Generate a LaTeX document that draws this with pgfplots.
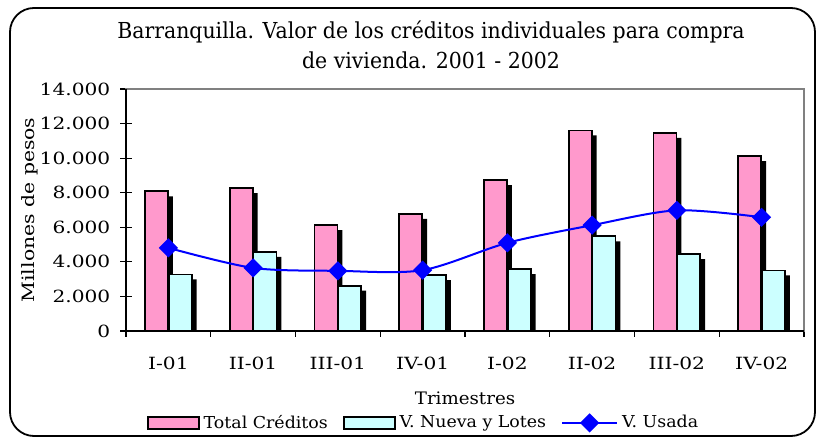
\documentclass[border=0pt]{standalone}
\usepackage{fontspec}
\setmainfont{DejaVu Serif}[FakeStretch=1.2]
\newfontfamily\titlefont{DejaVu Serif}[FakeStretch=0.93]
\newfontfamily\legfont{DejaVu Serif}[FakeStretch=1.06]
\usepackage{pgfplots}
\usepackage{pgfplotstable}
\pgfplotsset{compat=1.18}
\definecolor{pinkbar}{RGB}{255,153,204}
\definecolor{cyanbar}{RGB}{204,255,255}
\definecolor{blueline}{RGB}{0,0,255}
\pgfplotsset{
  barlegend/.style={legend image code/.code={\draw[##1] (0pt,-3pt) rectangle (25.5pt,3pt);}},
  linelegend/.style={legend image code/.code={\draw[##1, mark repeat=2, mark phase=2] plot coordinates {(0pt,0pt) (13.75pt,0pt) (27.5pt,0pt)};}},
}

\pgfplotstableread{
x total nueva usada
0 8080 3270 4810
1 8270 4580 3650
2 6130 2620 3480
3 6770 3230 3520
4 8730 3580 5100
5 11600 5480 6120
6 11460 4440 6980
7 10110 3500 6580
}\datatable

\begin{document}
\fontsize{8}{9.6}\selectfont
\begin{tikzpicture}
\path[use as bounding box] (0,0) rectangle (408.5pt,219pt);
\draw[line width=0.9pt, rounded corners=12pt] (5pt,1pt) rectangle (407.5pt,215pt);
\node[align=center, font=\titlefont\fontsize{11}{15}\selectfont] at (215.5pt,196.5pt)
  {Barranquilla. Valor de los créditos individuales para compra\\de vivienda. 2001 - 2002};
\node[rotate=90, font=\fontsize{8.5}{10}\selectfont] at (15pt,114pt) {Millones de pesos};
\node[font=\legfont\fontsize{8.6}{10}\selectfont] at (232.5pt,20pt) {Trimestres};
\begin{axis}[name=ax, at={(63pt,53.5pt)}, anchor=south west,
  scale only axis, width=339pt, height=121pt,
  xmin=-0.5, xmax=7.5, ymin=0, ymax=14000,
  ytick={0,2000,...,14000},
  xtick={0,...,7},
  xticklabels={I-01,II-01,III-01,IV-01,I-02,II-02,III-02,IV-02},
  minor xtick={-0.5,0.5,...,7.5},
  major x tick style={draw=none},
  minor tick length=3pt, major tick length=6pt,
  xtick align=outside, ytick align=center,
  tick pos=left,
  tick style={black, line width=0.6pt},
  axis line style={draw=gray, line width=0.9pt},
  /pgf/number format/assume math mode=true,
  /pgf/number format/1000 sep={.},
  scaled y ticks=false,
  ticklabel style={font=\fontsize{8.4}{10}\selectfont},
  yticklabel style={xshift=-2pt},
  xticklabel style={yshift=-4pt},
  legend style={at={(0.4403,-0.38)}, anchor=center, draw=none, fill=none,
    font=\legfont\fontsize{8.2}{9.5}\selectfont,
    inner sep=0pt, /tikz/every even column/.append style={column sep=5.5pt}},
  legend columns=3, legend cell align=left,
]
\addplot[ybar, bar width=0.27, bar shift=-0.14, fill=black, draw=none,
  xshift=2.5pt, yshift=-2.5pt, forget plot] table[x=x,y=total] {\datatable};
\addplot[ybar, bar width=0.27, bar shift=-0.14, fill=pinkbar, draw=black, line width=0.9pt,
  barlegend] table[x=x,y=total] {\datatable};
\addlegendentry{Total Créditos}
\addplot[ybar, bar width=0.27, bar shift=0.14, fill=black, draw=none,
  xshift=2.5pt, yshift=-2.5pt, forget plot] table[x=x,y=nueva] {\datatable};
\addplot[ybar, bar width=0.27, bar shift=0.14, fill=cyanbar, draw=black, line width=0.9pt,
  barlegend] table[x=x,y=nueva] {\datatable};
\addlegendentry{V. Nueva y Lotes}
\addplot[blueline, line width=1pt, smooth, tension=0.5, mark=square*,
  mark size=2.9pt, mark options={rotate=45, fill=blueline, draw=blueline},
  linelegend] table[x=x,y=usada] {\datatable};
\addlegendentry{V. Usada}
\end{axis}
\draw[black, line width=0.9pt] (ax.north west) -- (ax.south west) -- (ax.south east);
\end{tikzpicture}
\end{document}
